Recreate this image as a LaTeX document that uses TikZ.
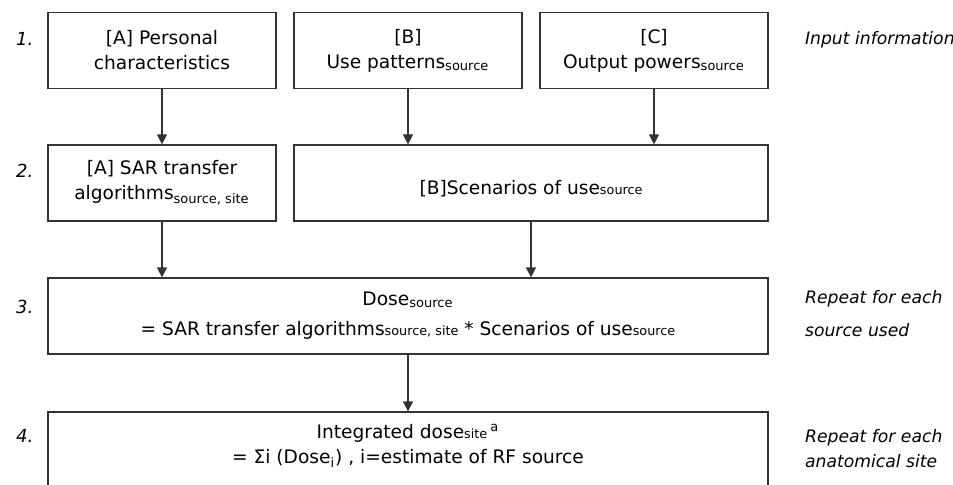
\documentclass[tikz,border=0pt]{standalone}
\usepackage{fontspec}
\setmainfont{DejaVu Sans}
\usetikzlibrary{arrows.meta,positioning}
\definecolor{framegray}{HTML}{333333}
\newcommand{\sbs}[1]{\textsubscript{#1}}
\newcommand{\lowsub}[1]{{\fontsize{6.4}{7}\selectfont #1}}

\begin{document}
\begin{tikzpicture}[x=0.5pt, y=-0.5pt,
  box/.style={draw=framegray, line width=0.65pt, align=center, inner sep=2pt,
    minimum height=38pt, font=\fontsize{9.3}{12.5}\selectfont},
  smallbox/.style={box, minimum width=114pt},
  midbox/.style={box, minimum width=237pt},
  widebox/.style={box, minimum width=360pt},
  steplabel/.style={anchor=base west, font=\fontsize{9}{11}\selectfont\itshape},
  note/.style={anchor=west, align=left, font=\fontsize{8.6}{12.5}\selectfont\itshape},
  arr/.style={-{Triangle[length=5pt, width=5pt]}, line width=0.65pt, draw=framegray}
]
\useasboundingbox (0,0) rectangle (953,484);
% row 1: input information
\node[smallbox] (persons) at (162,50.5) {[A] Personal\\characteristics};
\node[smallbox] (patterns) at (408,50.5) {[B]\\Use patterns\sbs{source}};
\node[smallbox] (powers) at (654,50.5) {[C]\\Output powers\sbs{source}};
% row 2
\node[smallbox] (sar) at (162,183) {[A] SAR transfer\\algorithms\sbs{source, site}};
\node[midbox] (scenarios) at (531,183) {\rule{0pt}{13pt}[B]Scenarios of use\lowsub{source}};
% rows 3 and 4
\node[widebox] (dose) at (408,316) {Dose\sbs{source}\\[2.5pt]= SAR transfer algorithms\lowsub{source, site} * Scenarios of use\lowsub{source}};
\node[widebox] (total) at (408,450) {Integrated dose\lowsub{site}\,\textsuperscript{a}\\= Σi (Dose\sbs{i}) , i=estimate of RF source\rule[-6pt]{0pt}{6pt}};

\draw[arr] (persons) -- (sar);
\draw[arr] (patterns.south) -- (patterns.south |- scenarios.north);
\draw[arr] (powers.south) -- (powers.south |- scenarios.north);
\draw[arr] (sar.south) -- (sar.south |- dose.north);
\draw[arr] (scenarios.south) -- (scenarios.south |- dose.north);
\draw[arr] (dose) -- (total);

% step numbers
\node[steplabel] (s1) at (9,45) {1.};
\node[steplabel] (s2) at (9,177) {2.};
\node[steplabel] (s3) at (9,313) {3.};
\node[steplabel] (s4) at (9,442) {4.};

% notes on the right
\node[note] (n1) at (798,40) {Input information};
\node[note] (n2) at (798,314) {Repeat for each\\[4pt]source used};
\node[note] (n3) at (798,449) {Repeat for each\\anatomical site};
\end{tikzpicture}
\end{document}
